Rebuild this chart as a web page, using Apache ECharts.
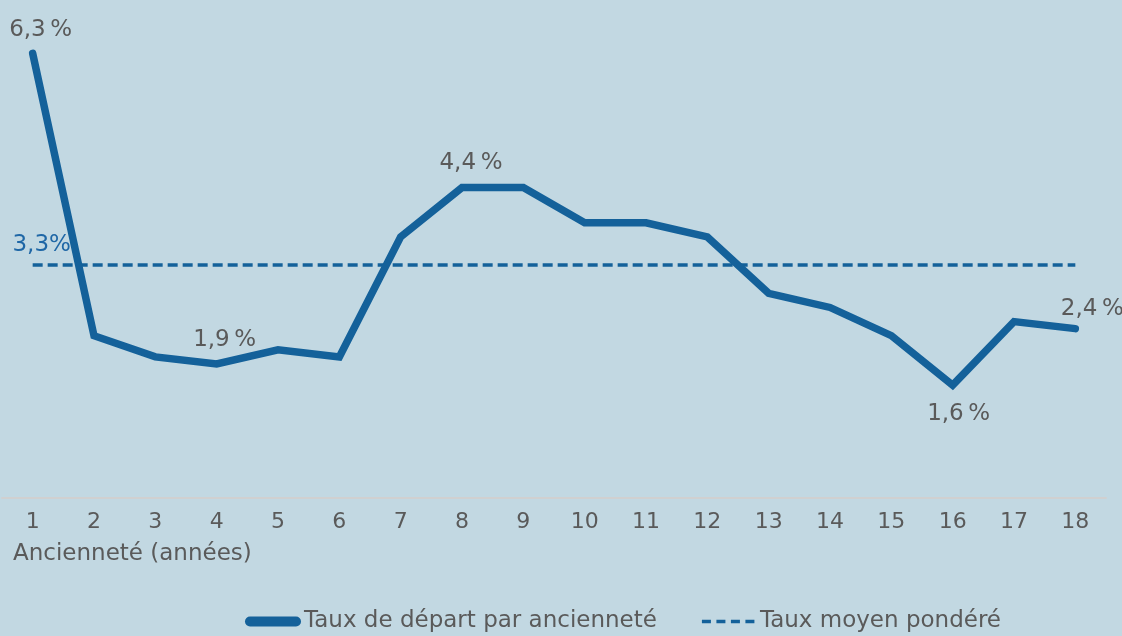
<!DOCTYPE html>
<html>
<head>
<meta charset="utf-8">
<script src="https://cdn.jsdelivr.net/npm/echarts@6/dist/echarts.min.js"></script>
<style>
  html, body { margin: 0; padding: 0; background: #c2d8e2; }
  #chart { width: 1122px; height: 636px; }
</style>
</head>
<body>
<div id="chart"></div>
<script>
const years = ['1', '2', '3', '4', '5', '6', '7', '8', '9', '10', '11', '12', '13', '14', '15', '16', '17', '18'];
const departRate = [6.3, 2.3, 2.0, 1.9, 2.1, 2.0, 3.7, 4.4, 4.4, 3.9, 3.9, 3.7, 2.9, 2.7, 2.3, 1.6, 2.5, 2.4];
const avgRate = 3.3;
// which points carry a label, where, and a small nudge
const labelled = {
  0: ['top', [8, 2]],
  3: ['top', [8, 2]],
  7: ['top', [9, 1]],
  15: ['bottom', [6, 3]],
  17: ['top', [17, 6]]
};

const fmt = (v) => v.toFixed(1).replace('.', ',');
const mainFont = 'DejaVu Sans, sans-serif';
const lineColor = '#14619a';
const textColor = '#5a5a5a';

const chart = echarts.init(document.getElementById('chart'));

const option = {
  backgroundColor: '#c2d8e2',
  animation: false,
  grid: { left: 2, right: 16, top: 4, bottom: 138 },
  legend: {
    top: 610,
    left: 245,
    itemGap: 44,
    itemWidth: 56,
    itemHeight: 10,
    padding: 0,
    textStyle: { color: textColor, fontSize: 23, fontFamily: mainFont, padding: [0, 0, 0, -2] },
    data: [
      { name: 'Taux de départ par ancienneté', icon: 'path://M5,0 L51,0 A5,5 0 0 1 51,10 L5,10 A5,5 0 0 1 5,0 Z' },
      {
        name: 'Taux moyen pondéré',
        icon: 'path://M0,0 L0.01,0 L0,0.01 Z M56,10 L55.99,10 L56,9.99 Z' +
          ' M1,3.2 h9 v3.6 h-9 Z M15.5,3.2 h9 v3.6 h-9 Z M30,3.2 h9 v3.6 h-9 Z M44.5,3.2 h9 v3.6 h-9 Z'
      }
    ]
  },
  xAxis: {
    type: 'category',
    data: years,
    boundaryGap: true,
    axisLine: { lineStyle: { color: '#d0d0d0', width: 2 } },
    axisTick: { show: false },
    axisLabel: { color: textColor, fontSize: 22, fontFamily: mainFont, margin: 13 }
  },
  yAxis: {
    type: 'value',
    min: 0,
    max: 7,
    show: false,
    splitLine: { show: false }
  },
  graphic: [
    {
      type: 'text',
      left: 13,
      top: 543,
      style: { text: 'Ancienneté (années)', fill: textColor, font: '23px ' + mainFont }
    }
  ],
  series: [
    {
      name: 'Taux de départ par ancienneté',
      type: 'line',
      data: departRate.map((v, i) => ({
        value: v,
        label: labelled[i]
          ? { show: true, position: labelled[i][0], offset: labelled[i][1] }
          : { show: false }
      })),
      showSymbol: true,
      symbol: 'circle',
      symbolSize: 0.1,
      lineStyle: { color: lineColor, width: 7.5, cap: 'round', join: 'miter' },
      itemStyle: { color: lineColor },
      label: {
        color: textColor,
        fontSize: 23,
        fontFamily: mainFont,
        distance: 14,
        formatter: (p) => fmt(p.value) + '\u2009%'
      },
      emphasis: { disabled: true },
      z: 3
    },
    {
      name: 'Taux moyen pondéré',
      type: 'line',
      data: years.map((y, i) => ({
        value: avgRate,
        label: i === 0 ? { show: true, position: 'top', offset: [9, -1] } : { show: false }
      })),
      showSymbol: true,
      symbol: 'circle',
      symbolSize: 0.1,
      lineStyle: { color: lineColor, width: 3.5, type: [10, 5] },
      itemStyle: { color: lineColor },
      label: {
        color: '#1f67a6',
        fontSize: 23,
        fontFamily: mainFont,
        distance: 8,
        formatter: (p) => fmt(p.value) + '%'
      },
      emphasis: { disabled: true },
      z: 2
    }
  ]
};

chart.setOption(option);
</script>
</body>
</html>
